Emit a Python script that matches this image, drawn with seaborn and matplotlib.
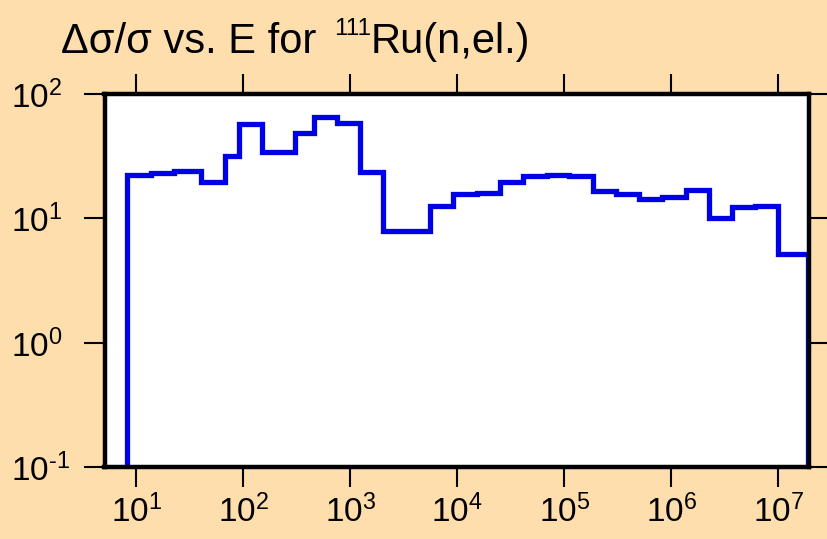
import numpy as np
import pandas as pd
import matplotlib
matplotlib.use("Agg")
import matplotlib.pyplot as plt
import seaborn as sns
from matplotlib.ticker import FixedLocator, FixedFormatter, NullLocator

# ---- data ----
edges = [8.28, 13.6, 22.5, 40.0, 67.9, 91.8, 148.6, 304, 458, 746, 1233, 2032,
         5546, 9183, 15280, 25060, 41400, 68550, 110700, 184100, 307600,
         498900, 824100, 1.361e6, 2.234e6, 3.69e6, 6.05e6, 1.0e7, 1.9e7]
levels = [22.4, 23.0, 23.9, 19.6, 31.9, 57, 34, 49, 65, 58.5, 23.5, 7.9,
          12.6, 15.7, 15.9, 19.5, 22.1, 22.3, 22.1, 16.7, 15.7, 14.3, 14.8,
          16.9, 10.1, 12.4, 12.6, 5.19]
floor = 1e-3
x_ticks = [1e1, 1e2, 1e3, 1e4, 1e5, 1e6, 1e7]
x_labels = [r"$10^{1}$", r"$10^{2}$", r"$10^{3}$", r"$10^{4}$", r"$10^{5}$", r"$10^{6}$", r"$10^{7}$"]
y_ticks = [0.1, 1, 10, 100]
y_labels = ["$10^{\u20101}$", r"$10^{0}$", r"$10^{1}$", r"$10^{2}$"]
title_main = "Δσ/σ vs. E for "
title_sup = "111"
title_rest = "Ru(n,el.)"

sns.set_style("ticks")
plt.rcParams["font.family"] = ["Liberation Sans", "DejaVu Sans"]
plt.rcParams["mathtext.fontset"] = "custom"
plt.rcParams["mathtext.rm"] = "Liberation Sans"
plt.rcParams["mathtext.it"] = "Liberation Sans:italic"
plt.rcParams["mathtext.bf"] = "Liberation Sans:bold"

BG = "#FFDEAD"
W, H = 827, 539
fig = plt.figure(figsize=(W / 100, H / 100), dpi=100, facecolor=BG)
L, R, T, B = 104.5, 809.0, 94.0, 467.3
ax = fig.add_axes([L / W, 1 - B / H, (R - L) / W, (B - T) / H])
ax.set_facecolor("white")

xs = [edges[0]] + edges + [edges[-1]]
ys = [floor] + levels + [levels[-1]] + [floor]
df = pd.DataFrame({"E": xs, "rel": ys})
sns.lineplot(data=df, x="E", y="rel", ax=ax, estimator=None, sort=False,
             drawstyle="steps-post", color="#0000E6", linewidth=3.8,
             solid_joinstyle="miter")

ax.set_xscale("log")
ax.set_yscale("log")
ax.set_xlim(5.05, 1.94e7)
ax.set_ylim(0.1, 100)
ax.set_xlabel("")
ax.set_ylabel("")

ax.xaxis.set_major_locator(FixedLocator(x_ticks))
ax.xaxis.set_major_formatter(FixedFormatter(x_labels))
ax.yaxis.set_major_locator(FixedLocator(y_ticks))
ax.yaxis.set_major_formatter(FixedFormatter(y_labels))
ax.xaxis.set_minor_locator(NullLocator())
ax.yaxis.set_minor_locator(NullLocator())

for s in ax.spines.values():
    s.set_linewidth(3.2)
    s.set_color("black")
    s.set_visible(True)

ax.tick_params(axis="x", which="major", direction="out", length=14.5, width=1.5,
               top=True, bottom=True, labeltop=False, labelbottom=True,
               labelsize=24, pad=5, colors="black")
ax.tick_params(axis="y", which="major", direction="out", length=15, width=1.5,
               left=True, right=True, labelleft=True, labelright=False,
               labelsize=24, pad=52, colors="black")
for lab in ax.get_yticklabels():
    lab.set_horizontalalignment("left")
for lab in ax.get_xticklabels() + ax.get_yticklabels():
    lab.set_color("black")

# title composed of three text pieces
fig.canvas.draw()
renderer = fig.canvas.get_renderer()
tx, ty = 61 / W, 1 - 53 / H
t1 = fig.text(tx, ty, title_main, fontsize=30, va="baseline", ha="left", color="black")
bb = t1.get_window_extent(renderer)
x2 = (bb.x1 + 6) / W
t2 = fig.text(x2, 1 - 35 / H, title_sup, fontsize=17.5, va="baseline", ha="left", color="black")
bb2 = t2.get_window_extent(renderer)
t3 = fig.text(bb2.x1 / W, ty, title_rest, fontsize=30, va="baseline", ha="left", color="black")

fig.savefig("out.png", dpi=100, facecolor=BG)
